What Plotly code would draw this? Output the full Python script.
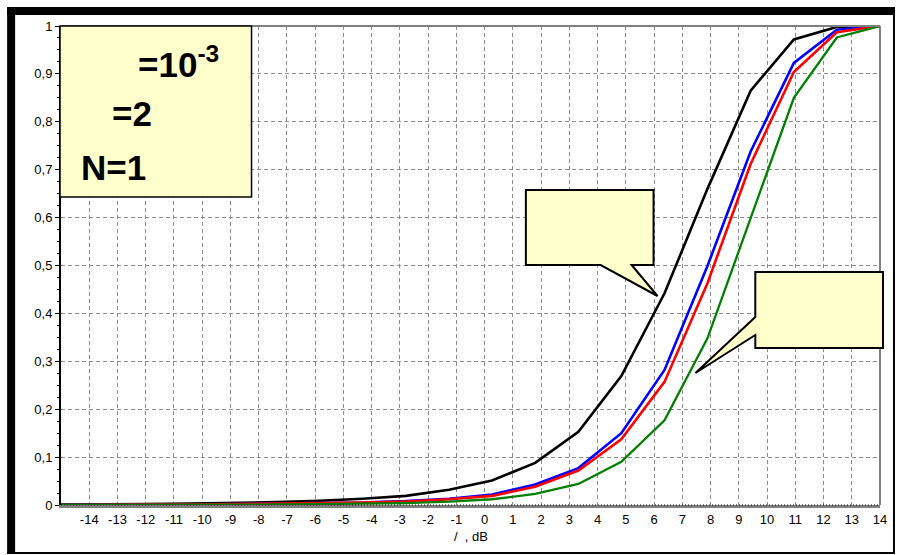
import plotly.graph_objects as go

# ---- data ----
snr_db = [-15, -13.47, -11.95, -10.42, -8.89, -7.37, -5.84, -4.32, -2.79, -1.26,
          0.26, 1.79, 3.32, 4.84, 6.37, 7.89, 9.42, 10.95, 12.47, 14]
p_black = [0.001, 0.001, 0.002, 0.003, 0.004, 0.006, 0.009, 0.013, 0.019, 0.032,
           0.051, 0.088, 0.153, 0.269, 0.442, 0.660, 0.865, 0.972, 0.998, 1.0]
p_blue = [0.0, 0.001, 0.001, 0.001, 0.002, 0.003, 0.004, 0.005, 0.008, 0.013,
          0.022, 0.043, 0.077, 0.150, 0.282, 0.499, 0.738, 0.923, 0.992, 1.0]
p_red = [0.0, 0.001, 0.001, 0.001, 0.002, 0.002, 0.003, 0.005, 0.007, 0.012,
         0.019, 0.038, 0.072, 0.137, 0.257, 0.463, 0.712, 0.904, 0.987, 1.0]
p_green = [0.0, 0.0, 0.001, 0.001, 0.001, 0.001, 0.002, 0.003, 0.004, 0.007,
           0.012, 0.023, 0.044, 0.090, 0.177, 0.348, 0.600, 0.850, 0.976, 1.0]

x_tickvals = list(range(-14, 15))
x_ticktext = [str(v) for v in x_tickvals]  # plain hyphen-minus as in the reference
y_tickvals = [0, 0.1, 0.2, 0.3, 0.4, 0.5, 0.6, 0.7, 0.8, 0.9, 1.0]
y_ticktext = ["0", "0,1", "0,2", "0,3", "0,4", "0,5", "0,6", "0,7", "0,8", "0,9", "1"]

x_title = "/\u00a0\u00a0, dB"
box_lines = ["<b>=10<sup>-3</sup></b>", "<b>=2</b>", "<b>N=1</b>"]

# ---- layout geometry (pixels) ----
W, H = 899, 555
L, R, T, B = 61, 882, 26, 505


def px(x):
    return (x - L) / (R - L)


def py(y):
    return (B - y) / (B - T)


def poly(points):
    return "M " + " L ".join(f"{px(a):.5f},{py(b):.5f}" for a, b in points) + " Z"


FONT = "Liberation Sans, Arial, sans-serif"
YELLOW = "#FFFFCC"

fig = go.Figure()
series = [(p_black, "#000000", 2.6), (p_blue, "#0000FF", 2.6),
          (p_red, "#FF0000", 2.6), (p_green, "#008000", 2.3)]
for vals, col, w in series:
    fig.add_trace(go.Scatter(x=snr_db, y=vals, mode="lines",
                             line=dict(color=col, width=w), showlegend=False,
                             hoverinfo="skip"))

shapes = []
# outer frame (thick top/left, thin right/bottom)
for (x0, y0, x1, y1) in [(7, 7, 897, 15), (7, 7, 15, 554), (895, 7, 897, 554), (7, 552, 897, 554)]:
    shapes.append(dict(type="rect", xref="paper", yref="paper",
                       x0=px(x0), x1=px(x1), y0=py(y0), y1=py(y1),
                       fillcolor="black", line=dict(width=0), layer="above"))
# top and right plot border (gray)
shapes.append(dict(type="line", xref="paper", yref="paper", x0=0, x1=1, y0=1, y1=1,
                   line=dict(color="#808080", width=2), layer="above"))
shapes.append(dict(type="line", xref="paper", yref="paper", x0=1, x1=1, y0=0, y1=1,
                   line=dict(color="#808080", width=2), layer="above"))
# dotted overlay on bottom axis
shapes.append(dict(type="line", xref="paper", yref="paper", x0=0, x1=1, y0=0, y1=0,
                   line=dict(color="black", width=1, dash="1px,2px"), layer="above"))
# top-left info box
shapes.append(dict(type="path", xref="paper", yref="paper",
                   path=poly([(60, 26), (252, 26), (252, 197), (60, 197)]),
                   fillcolor=YELLOW, line=dict(color="black", width=1.5), layer="above"))
# callout 1
shapes.append(dict(type="path", xref="paper", yref="paper",
                   path=poly([(527, 190), (655, 190), (655, 265), (633, 265),
                              (659, 296), (602, 265), (527, 265)]),
                   fillcolor=YELLOW, line=dict(color="black", width=2), layer="above"))
# callout 2
shapes.append(dict(type="path", xref="paper", yref="paper",
                   path=poly([(757, 272), (885, 272), (885, 348), (757, 348),
                              (757, 335), (697, 373), (757, 317)]),
                   fillcolor=YELLOW, line=dict(color="black", width=2), layer="above"))

annotations = []
for text, (lx, cy) in zip(box_lines, [(136, 62), (110, 113), (79, 167)]):
    annotations.append(dict(text=text, xref="paper", yref="paper", x=px(lx), y=py(cy),
                            xanchor="left", yanchor="middle", showarrow=False,
                            font=dict(family=FONT, size=35, color="black")))
annotations.append(dict(text=x_title, xref="paper", yref="paper", x=px(453), y=py(536),
                        xanchor="left", yanchor="middle", showarrow=False,
                        font=dict(family=FONT, size=13, color="black")))

fig.update_layout(
    width=W, height=H, autosize=False,
    margin=dict(l=L, r=W - R, t=T, b=H - B, pad=0),
    paper_bgcolor="white", plot_bgcolor="white",
    font=dict(family=FONT, size=13, color="black"),
    shapes=shapes, annotations=annotations,
    xaxis=dict(range=[-15, 14], tickvals=x_tickvals, ticktext=x_ticktext, ticks="",
               showgrid=True, gridcolor="#8c8c8c", gridwidth=1, griddash="4px,3px",
               showline=True, linecolor="#808080", linewidth=3, zeroline=False,
               tickfont=dict(family=FONT, size=13, color="black"), fixedrange=True),
    yaxis=dict(range=[0, 1], tickvals=y_tickvals, ticktext=y_ticktext,
               ticks="outside", ticklen=4, tickcolor="black", tickwidth=1,
               showgrid=True, gridcolor="#8c8c8c", gridwidth=1, griddash="4px,3px",
               showline=True, linecolor="black", linewidth=2, zeroline=False,
               minor=dict(dtick=0.025, ticks="outside", ticklen=2, tickcolor="black",
                          showgrid=False),
               tickfont=dict(family=FONT, size=13, color="black"), fixedrange=True),
)

fig.write_html("out.html")
